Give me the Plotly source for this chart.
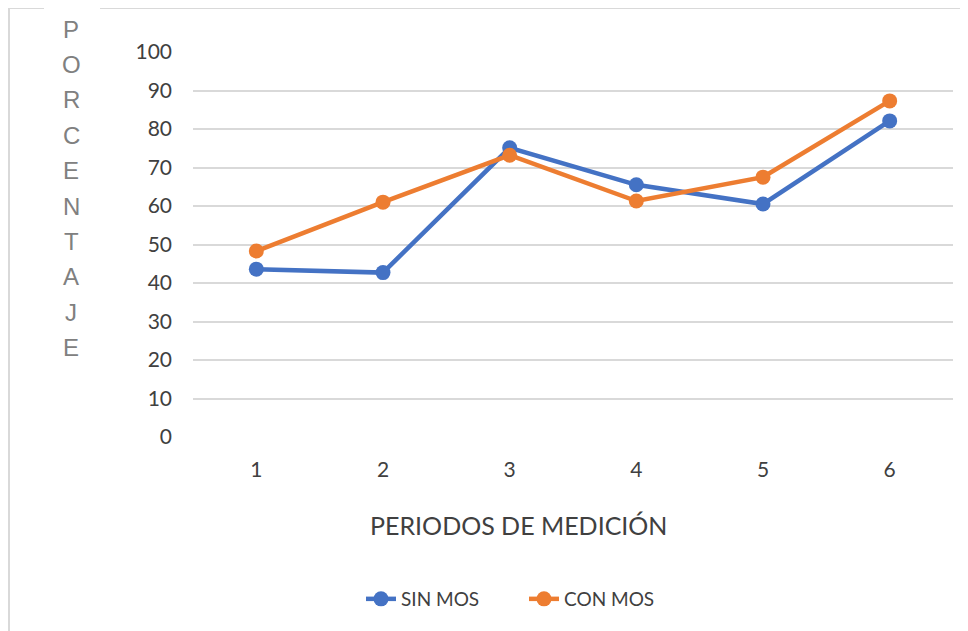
import plotly.graph_objects as go

periodos = ["1", "2", "3", "4", "5", "6"]
sin_mos = [43.6, 42.7, 75.1, 65.5, 60.5, 82.1]
con_mos = [48.3, 61.0, 73.2, 61.3, 67.5, 87.3]
y_ticks = [0, 10, 20, 30, 40, 50, 60, 70, 80, 90, 100]
y_title = "PORCENTAJE"
x_title = "PERIODOS DE MEDICIÓN"

# the page body has an 8px margin, so the figure starts at (8, 8) in the window
OFF = 8
W, H = 968 - OFF, 631 - OFF
X0, X1, Y0, Y1 = 193, 953, 52, 437  # plot area in window pixels


def px(x):
    return (x - X0) / (X1 - X0)


def py(y):
    return (Y1 - y) / (Y1 - Y0)


fig = go.Figure()
fig.add_trace(go.Scatter(x=periodos, y=sin_mos, name="SIN MOS", mode="lines+markers",
                         line=dict(color="#4472C4", width=4.5), marker=dict(size=15, color="#4472C4")))
fig.add_trace(go.Scatter(x=periodos, y=con_mos, name="CON MOS", mode="lines+markers",
                         line=dict(color="#ED7D31", width=4.5), marker=dict(size=15, color="#ED7D31")))

# chart frame (top line broken where the vertical title starts)
frame = dict(type="line", xref="paper", yref="paper", line=dict(color="#d9d9d9", width=2))
fig.add_shape(**frame, x0=px(9), x1=px(9), y0=py(8), y1=py(640))
fig.add_shape(**frame, x0=px(9), x1=px(44), y0=py(8), y1=py(8))
fig.add_shape(**frame, x0=px(100), x1=px(975), y0=py(8), y1=py(8))

for i, letter in enumerate(y_title):
    fig.add_annotation(text=letter, x=px(71), y=py(29 + i * 35.4), xref="paper", yref="paper",
                       xanchor="center", yanchor="middle", showarrow=False,
                       font=dict(family="Liberation Sans", size=24, color="#808080"))

fig.add_annotation(text=x_title, x=px(518), y=py(525), xref="paper", yref="paper",
                   xanchor="center", yanchor="middle", showarrow=False,
                   font=dict(family="Lato", size=25, color="#404040"))

fig.update_layout(
    width=W,
    height=H,
    margin=dict(l=X0 - OFF, r=W - (X1 - OFF), t=Y0 - OFF, b=H - (Y1 - OFF)),
    plot_bgcolor="white",
    paper_bgcolor="white",
    font=dict(family="Lato", color="#404040"),
    showlegend=True,
    legend=dict(orientation="h", x=px(524), xanchor="center", y=py(599), yanchor="middle",
                font=dict(size=19, color="#404040"), entrywidth=118, tracegroupgap=0),
)
fig.update_xaxes(type="category", range=[-0.5, 5.5], showgrid=False, zeroline=False, showline=False,
                 tickfont=dict(size=21), ticklabelstandoff=18)
fig.update_yaxes(range=[0, 100], tickvals=y_ticks, showgrid=True, gridcolor="#d9d9d9", gridwidth=1.5,
                 zeroline=False, showline=False, tickfont=dict(size=21), ticklabelstandoff=20)

fig.write_html("out.html")
